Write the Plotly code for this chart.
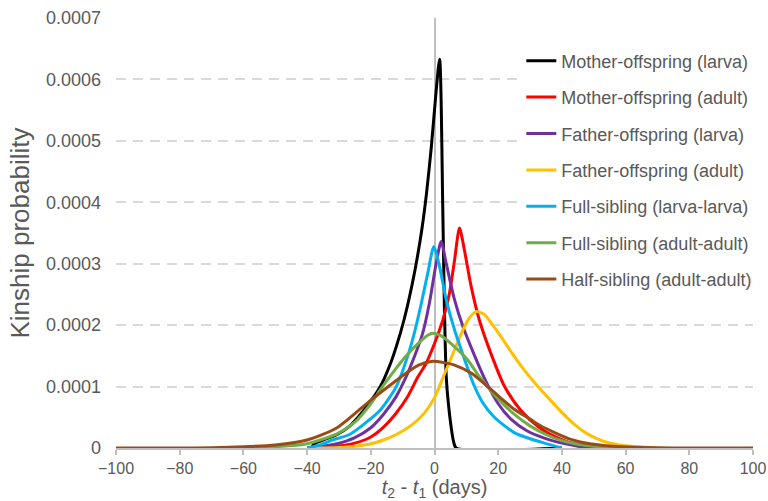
import plotly.graph_objects as go

# ---- data (y values in units of 1e-4 kinship probability) ----
SCALE = 1e-4

names = [
    "Mother-offspring (larva)",
    "Mother-offspring (adult)",
    "Father-offspring (larva)",
    "Father-offspring (adult)",
    "Full-sibling (larva-larva)",
    "Full-sibling (adult-adult)",
    "Half-sibling (adult-adult)",
]

mo_larva_x = [-38.6, -38.2, -37.0, -35.0, -31.0, -27.0, -21.5, -17.0, -14.0, -12.0, -9.5, -6.3,
              -4.0, -2.5, -1.0, 0.5, 1.6, 2.6, 3.1, 3.7, 4.3, 5.2, 6.0, 6.8, 40.0]
mo_larva_y = [0, 0.04, 0.09, 0.13, 0.21, 0.34, 0.66, 1.0, 1.35, 1.65, 2.1, 2.85,
              3.55, 4.15, 4.9, 5.8, 6.33, 3.9, 2.3, 1.15, 0.75, 0.35, 0.1, 0, 0]

mo_adult_x = [-40, -35, -30.6, -25, -20, -16, -12, -8.5, -5.2, -2.6, 0, 2.6, 4.7, 6.3, 7.85,
              9.4, 11.5, 14.1, 18, 22, 27, 33, 38, 43, 49, 55, 65]
mo_adult_y = [0, 0.01, 0.03, 0.08, 0.18, 0.34, 0.57, 0.83, 1.16, 1.38, 1.70, 2.08, 2.52, 3.06, 3.58,
              3.22, 2.63, 2.08, 1.5, 1.0, 0.62, 0.33, 0.18, 0.08, 0.03, 0.01, 0]

fo_larva_x = [-40, -35, -30.6, -25, -20, -16, -12, -8.9, -6.3, -3.7, -1.6, 0.5, 2.1, 3.7, 6.3,
              8.9, 12.6, 16, 20, 24, 29, 34.5, 40, 45, 50, 55]
fo_larva_y = [0, 0.03, 0.07, 0.17, 0.33, 0.55, 0.84, 1.16, 1.49, 1.87, 2.36, 3.0, 3.36, 3.0, 2.41,
              1.98, 1.5, 1.1, 0.72, 0.47, 0.28, 0.16, 0.08, 0.03, 0.01, 0]

fo_adult_x = [-40, -30, -25, -20, -16, -12, -7, -3, 0, 3.1, 6.3, 8.9, 11, 13.1, 15.5, 18, 20.9,
              24, 28, 32, 36, 40, 44, 48, 53, 58, 64, 70]
fo_adult_y = [0, 0.01, 0.03, 0.07, 0.13, 0.22, 0.38, 0.58, 0.82, 1.2, 1.6, 1.92, 2.12, 2.22, 2.18, 2.02, 1.81,
              1.57, 1.28, 1.03, 0.8, 0.58, 0.38, 0.23, 0.11, 0.05, 0.02, 0]

fs_larva_x = [-40, -36, -32.6, -26.7, -21.4, -17, -12, -8.4, -6.3, -4.2, -2.1, -0.2, 1.6, 3.7,
              6.3, 9.4, 12, 15, 18.8, 25, 30, 34.5, 40]
fs_larva_y = [0, 0.05, 0.12, 0.22, 0.42, 0.62, 1.0, 1.5, 1.88, 2.34, 2.85, 3.28, 2.95, 2.41,
              1.92, 1.45, 1.07, 0.75, 0.5, 0.25, 0.15, 0.08, 0]

fs_adult_x = [-60, -50, -40, -30.6, -25, -20, -17, -12, -9.4, -5.2, -2, -0.5, 2, 5.2, 10.5, 14.1,
              20, 25, 30, 35, 40, 45, 50, 60]
fs_adult_y = [0, 0.02, 0.07, 0.23, 0.42, 0.72, 0.95, 1.3, 1.47, 1.7, 1.84, 1.87, 1.83, 1.70, 1.43, 1.16,
              0.8, 0.55, 0.36, 0.22, 0.12, 0.06, 0.03, 0]

hs_adult_x = [-100, -80, -70, -60, -50, -40, -30.6, -20, -12, -9.4, -5, -1, 3, 6.3, 11.5, 20, 25,
              30, 33, 38.2, 43.4, 48.7, 59, 70, 80, 100]
hs_adult_y = [0, 0, 0.005, 0.02, 0.05, 0.13, 0.33, 0.78, 1.1, 1.2, 1.35, 1.41, 1.39, 1.35, 1.22, 0.85, 0.63,
              0.47, 0.37, 0.24, 0.13, 0.07, 0.02, 0.005, 0, 0]

series_x = [mo_larva_x, mo_adult_x, fo_larva_x, fo_adult_x, fs_larva_x, fs_adult_x, hs_adult_x]
series_y = [mo_larva_y, mo_adult_y, fo_larva_y, fo_adult_y, fs_larva_y, fs_adult_y, hs_adult_y]
colors = ["#000000", "#ff0000", "#7030a0", "#ffc000", "#00b0f0", "#70ad47", "#9a4a14"]

x_ticks = [-100, -80, -60, -40, -20, 0, 20, 40, 60, 80, 100]
y_ticks = [0, 0.0001, 0.0002, 0.0003, 0.0004, 0.0005, 0.0006, 0.0007]
y_ticktext = ["0", "0.0001", "0.0002", "0.0003", "0.0004", "0.0005", "0.0006", "0.0007"]

FONT = "Liberation Sans, Arial, sans-serif"
GREY = "#595959"

fig = go.Figure()
for i, (nm, xs, ys, c) in enumerate(zip(names, series_x, series_y, colors)):
    fig.add_trace(go.Scatter(
        x=xs, y=[v * SCALE for v in ys], mode="lines", name=nm,
        line=dict(color=c, width=3, shape="spline", smoothing=0.7),
        legendgroup=f"g{i}",
    ))

fig.update_layout(
    width=768, height=501,
    margin=dict(l=116, r=15, t=18, b=53, autoexpand=False),
    plot_bgcolor="white", paper_bgcolor="white",
    font=dict(family=FONT, color=GREY, size=16),
    showlegend=True,
    legend=dict(
        x=0.6363, y=0.943, xanchor="left", yanchor="top",
        bgcolor="white", borderwidth=0,
        font=dict(family=FONT, size=18, color=GREY),
        tracegroupgap=10, traceorder="grouped",
    ),
    xaxis=dict(
        range=[-100, 100], tickvals=x_ticks, ticks="outside", ticklen=5,
        tickcolor="#bfbfbf", tickwidth=1.5, automargin=False,
        showline=True, linecolor="#bfbfbf", linewidth=1.5,
        showgrid=False, zeroline=True, zerolinecolor="#bfbfbf", zerolinewidth=1.5,
        tickfont=dict(size=16, color=GREY),
        title=dict(text="<i>t</i><sub>2</sub> - <i>t</i><sub>1</sub> (days)",
                   font=dict(size=20, color=GREY), standoff=9),
    ),
    yaxis=dict(
        range=[0, 0.0007], tickvals=y_ticks, ticktext=y_ticktext, automargin=False,
        showgrid=True, gridcolor="#d9d9d9", gridwidth=2, griddash="10px,7px",
        zeroline=False, showline=False, ticks="",
        ticklabelstandoff=14,
        tickfont=dict(size=18, color=GREY),
        title=dict(text="Kinship probability", font=dict(size=26, color=GREY), standoff=8),
    ),
)

fig.write_html("out.html")
